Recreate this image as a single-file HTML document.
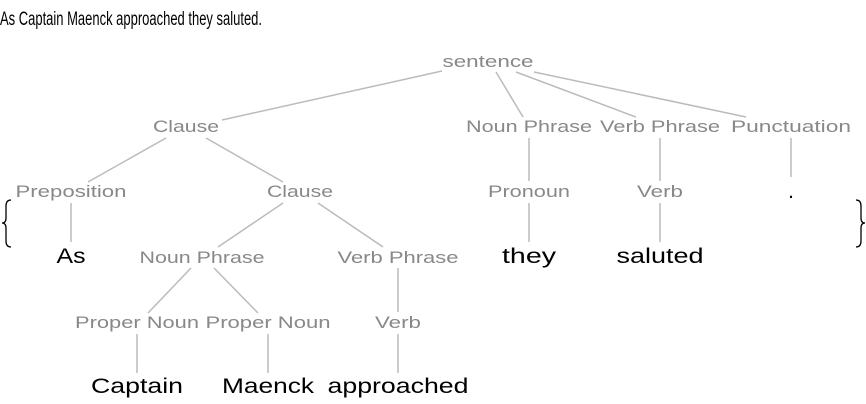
<!DOCTYPE html>
<html><head><meta charset="utf-8"><style>
html,body{margin:0;padding:0;background:#fff;width:866px;height:404px;overflow:hidden}
svg{display:block}
.g{font-family:"Liberation Sans",sans-serif;font-size:17px;fill:#888;text-anchor:middle}
.w{font-family:"Liberation Sans",sans-serif;font-size:21px;fill:#000;text-anchor:middle}
line{stroke:#bbb;stroke-width:1.5}
</style></head><body>
<svg width="866" height="404" viewBox="0 0 866 404">
<text x="0" y="25" font-family="Liberation Sans,sans-serif" font-size="19" textLength="262" lengthAdjust="spacingAndGlyphs">As Captain Maenck approached they saluted.</text>
<g>
<line x1="442" y1="71" x2="222" y2="120"/>
<line x1="496" y1="72" x2="523" y2="117"/>
<line x1="516" y1="72" x2="636" y2="117"/>
<line x1="534" y1="72" x2="746" y2="117"/>
<line x1="166" y1="138" x2="88" y2="182"/>
<line x1="206" y1="138" x2="283" y2="182"/>
<line x1="71" y1="203" x2="71" y2="242"/>
<line x1="283" y1="203" x2="218" y2="247"/>
<line x1="318" y1="203" x2="383" y2="247"/>
<line x1="529" y1="138" x2="529" y2="181"/>
<line x1="529" y1="203" x2="529" y2="242"/>
<line x1="660" y1="138" x2="660" y2="181"/>
<line x1="660" y1="203" x2="660" y2="242"/>
<line x1="791" y1="138" x2="791" y2="177"/>
<line x1="191" y1="268" x2="148" y2="313"/>
<line x1="214" y1="268" x2="258" y2="313"/>
<line x1="398" y1="268" x2="398" y2="312"/>
<line x1="137" y1="334" x2="137" y2="373"/>
<line x1="268" y1="334" x2="268" y2="373"/>
<line x1="398" y1="334" x2="398" y2="373"/>
</g>
<g lengthAdjust="spacingAndGlyphs">
<text class="g" x="488" y="67" textLength="91" lengthAdjust="spacingAndGlyphs">sentence</text>
<text class="g" x="186" y="132" textLength="66" lengthAdjust="spacingAndGlyphs">Clause</text>
<text class="g" x="529" y="132" textLength="126" lengthAdjust="spacingAndGlyphs">Noun Phrase</text>
<text class="g" x="660" y="132" textLength="120" lengthAdjust="spacingAndGlyphs">Verb Phrase</text>
<text class="g" x="791" y="132" textLength="120" lengthAdjust="spacingAndGlyphs">Punctuation</text>
<text class="g" x="71" y="197" textLength="111" lengthAdjust="spacingAndGlyphs">Preposition</text>
<text class="g" x="300" y="197" textLength="66" lengthAdjust="spacingAndGlyphs">Clause</text>
<text class="g" x="529" y="197" textLength="82" lengthAdjust="spacingAndGlyphs">Pronoun</text>
<text class="g" x="660" y="197" textLength="46" lengthAdjust="spacingAndGlyphs">Verb</text>
<text class="w" x="791" y="198">.</text>
<text class="w" x="71" y="263" textLength="29" lengthAdjust="spacingAndGlyphs">As</text>
<text class="g" x="202" y="263" textLength="125" lengthAdjust="spacingAndGlyphs">Noun Phrase</text>
<text class="g" x="398" y="263" textLength="121" lengthAdjust="spacingAndGlyphs">Verb Phrase</text>
<text class="w" x="529" y="263" textLength="54" lengthAdjust="spacingAndGlyphs">they</text>
<text class="w" x="660" y="263" textLength="87" lengthAdjust="spacingAndGlyphs">saluted</text>
<text class="g" x="137" y="328" textLength="124" lengthAdjust="spacingAndGlyphs">Proper Noun</text>
<text class="g" x="268" y="328" textLength="125" lengthAdjust="spacingAndGlyphs">Proper Noun</text>
<text class="g" x="398" y="328" textLength="46" lengthAdjust="spacingAndGlyphs">Verb</text>
<text class="w" x="137" y="393" textLength="92" lengthAdjust="spacingAndGlyphs">Captain</text>
<text class="w" x="268" y="393" textLength="92" lengthAdjust="spacingAndGlyphs">Maenck</text>
<text class="w" x="398" y="393" textLength="141" lengthAdjust="spacingAndGlyphs">approached</text>
</g>
<path d="M11,200 Q6,200 6,206 L6,218 Q6,223 2,223 Q6,223 6,228 L6,241 Q6,247 11,247" fill="none" stroke="#000" stroke-width="1.3"/>
<path d="M856,200 Q861,200 861,206 L861,218 Q861,223 865,223 Q861,223 861,228 L861,241 Q861,247 856,247" fill="none" stroke="#000" stroke-width="1.3"/>
</svg>
</body></html>
